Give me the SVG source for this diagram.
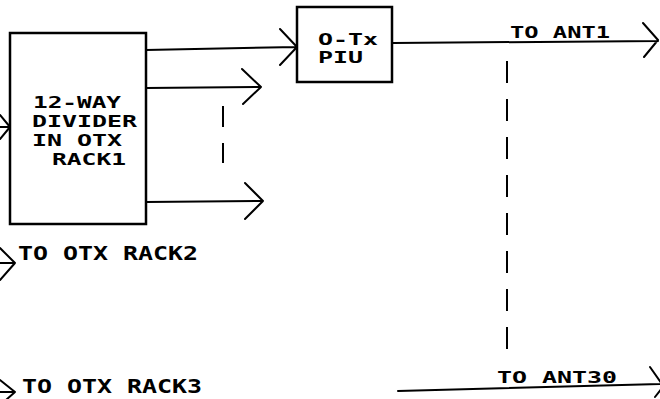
<svg xmlns="http://www.w3.org/2000/svg" width="660" height="399" viewBox="0 0 660 399">
<style>
.box{fill:#fff;stroke:#000;stroke-width:2.5}
.ln{fill:none;stroke:#000;stroke-width:2;stroke-linecap:round;stroke-linejoin:round}
.dash{fill:none;stroke:#000;stroke-width:2}
.t{font-family:"DejaVu Sans Mono","Liberation Mono",monospace;font-weight:bold;fill:#000}
.big{font-size:16px}
.piu{font-size:15px}
.mid{font-size:19px}
.sm{font-size:15px}
</style>
<rect width="660" height="399" fill="#fff"/>
<g id="connectors">
  <path class="ln" d="M0,127 L10,127 M0,115 L10,127 L0,139"/>
  <path class="ln" d="M146,50 L297,47 M280,29 L297,47 L280,65"/>
  <path class="ln" d="M146,88 L261,87 M242,69 L261,87 L243,104"/>
  <path class="ln" d="M146,202 L263,201 M245,183 L263,201 L245,219"/>
  <path class="dash" d="M223,106 L223,127 M223,143 L223,163"/>
  <path class="ln" d="M393,43 L658,41 M643,23 L658,40 L644,57"/>
  <path class="dash" d="M507,61 L507,350" stroke-dasharray="22 16"/>
  <path class="ln" d="M398,391 L662,384 M650,367 L662,384 M655,397 L662,388"/>
  <path class="ln" d="M0,263 L15,263 M0,248 L15,263 L0,280"/>
  <path class="ln" d="M0,380 L15,392 L6,400 M0,392 L15,392"/>
</g>
<g id="divider">
  <rect class="box" x="10" y="33" width="136" height="191"/>
  <text class="t big" x="33" y="108" textLength="88" lengthAdjust="spacingAndGlyphs">12-WAY</text>
  <text class="t big" x="32" y="127" textLength="105" lengthAdjust="spacingAndGlyphs">DIVIDER</text>
  <text class="t big" x="32" y="146" textLength="90" lengthAdjust="spacingAndGlyphs">IN OTX</text>
  <text class="t big" x="52" y="165" textLength="74" lengthAdjust="spacingAndGlyphs">RACK1</text>
</g>
<g id="piu">
  <rect class="box" x="297" y="7" width="95" height="75"/>
  <text class="t piu" x="318" y="45" textLength="60" lengthAdjust="spacingAndGlyphs">O-Tx</text>
  <text class="t piu" x="318" y="63" textLength="45" lengthAdjust="spacingAndGlyphs">PIU</text>
</g>
<g id="labels">
  <text class="t sm" x="510" y="38" textLength="100" lengthAdjust="spacingAndGlyphs">TO ANT1</text>
  <text class="t sm" x="497" y="383" textLength="120" lengthAdjust="spacingAndGlyphs">TO ANT30</text>
  <text class="t mid" x="18" y="260" textLength="180" lengthAdjust="spacingAndGlyphs">TO OTX RACK2</text>
  <text class="t mid" x="22" y="393" textLength="180" lengthAdjust="spacingAndGlyphs">TO OTX RACK3</text>
</g>
</svg>
